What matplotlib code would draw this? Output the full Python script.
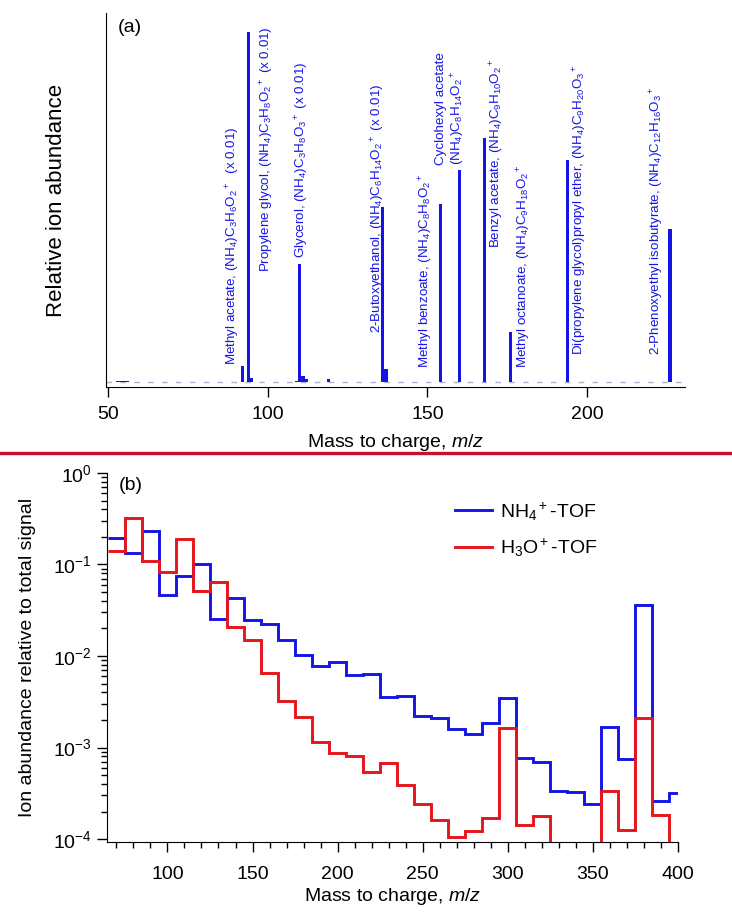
import numpy as np
import matplotlib
matplotlib.use("Agg")
import matplotlib.pyplot as plt
from matplotlib.ticker import MultipleLocator, NullLocator
from matplotlib.lines import Line2D

plt.rcParams['font.family'] = ['Liberation Sans', 'DejaVu Sans']
plt.rcParams['mathtext.fontset'] = 'custom'
plt.rcParams['mathtext.rm'] = 'Liberation Sans'
plt.rcParams['mathtext.it'] = 'Liberation Sans:italic'
plt.rcParams['mathtext.bf'] = 'Liberation Sans:bold'

# ---- panel (a): NH4+ mass spectrum (relative abundance) ----
mz_peaks = [53, 54, 55, 56, 92, 94, 95, 109, 110, 111, 112, 119, 136, 137,
            154, 160, 168, 176, 194, 226]
abund_peaks = [0.3, 0.4, 0.4, 0.3, 4.7, 100.0, 1.0, 0.3, 33.7, 1.7, 0.9, 0.9, 50.0, 3.6,
               50.8, 60.5, 69.7, 14.2, 63.5, 43.7]

peak_labels = [
    "Methyl acetate, (NH$_4$)C$_3$H$_6$O$_2$$^+$  (x 0.01)",
    "Propylene glycol, (NH$_4$)C$_3$H$_8$O$_2$$^+$ (x 0.01)",
    "Glycerol, (NH$_4$)C$_3$H$_8$O$_3$$^+$ (x 0.01)",
    "2-Butoxyethanol, (NH$_4$)C$_6$H$_{14}$O$_2$$^+$ (x 0.01)",
    "Methyl benzoate, (NH$_4$)C$_8$H$_8$O$_2$$^+$",
    "Cyclohexyl acetate\n(NH$_4$)C$_8$H$_{14}$O$_2$$^+$",
    "Benzyl acetate, (NH$_4$)C$_9$H$_{10}$O$_2$$^+$",
    "Methyl octanoate, (NH$_4$)C$_9$H$_{18}$O$_2$$^+$",
    "Di(propylene glycol)propyl ether, (NH$_4$)C$_9$H$_{20}$O$_3$$^+$",
    "2-Phenoxyethyl isobutyrate, (NH$_4$)C$_{12}$H$_{16}$O$_3$$^+$",
]
label_x = [89.0, 99.7, 110.7, 134.6, 149.5, 157.4, 171.8, 180.3, 197.8, 221.8]
label_y = [0.059, 0.308, 0.344, 0.144, 0.051, 0.594, 0.372, 0.051, 0.086, 0.086]

# ---- panel (b): binned ion abundance relative to total signal ----
bin_edges = np.arange(65, 406, 10)
nh4_tof = [0.193, 0.135, 0.232, 0.047, 0.074, 0.100, 0.0257, 0.043, 0.0245, 0.0226,
           0.0149, 0.0102, 0.0077, 0.0085, 0.0062, 0.0064, 0.00358, 0.00363, 0.0022,
           0.00213, 0.00158, 0.00141, 0.00184, 0.00347, 0.000766, 0.000693, 0.000335,
           0.000327, 0.00024, 0.00166, 0.000746, 0.0357, 0.000259, 0.000318]
h3o_tof = [0.141, 0.319, 0.109, 0.0826, 0.192, 0.0509, 0.0643, 0.0207, 0.0149, 0.00653,
           0.00319, 0.00216, 0.00116, 0.000883, 0.000819, 0.00054, 0.00068, 0.000389,
           0.000244, 0.00016, 0.000106, 0.000123, 0.000168, 0.00162, 0.000144, 0.000177,
           0.00003, 0.00003, 0.00003, 0.000338, 0.000127, 0.0021, 0.000183, 0.00003]

blue = '#1414e6'
red = '#e8141c'
fs = 14

fig = plt.figure(figsize=(7.32, 9.15), dpi=100)

# ---------------- (a) ----------------
ax1 = fig.add_axes([0.1448, 0.577, 0.791, 0.4087])
ax1.bar(mz_peaks, abund_peaks, width=1.0, color=blue, linewidth=0)
ax1.axhline(0, color='#aab2d6', lw=1, ls=(0, (4, 6)), zorder=0)
ax1.set_xlim(49.3, 230.7)
ax1.set_ylim(-1.45, 105.5)
for lab, x, y in zip(peak_labels, label_x, label_y):
    ax1.text(x, y, lab, transform=ax1.get_xaxis_transform(), rotation=90,
             ha='center', va='bottom', color=blue, fontsize=9.6, multialignment='left')
ax1.spines['top'].set_visible(False)
ax1.spines['right'].set_visible(False)
ax1.yaxis.set_major_locator(NullLocator())
ax1.xaxis.set_major_locator(MultipleLocator(50))
ax1.tick_params(axis='x', direction='out', length=7.5, width=1, pad=6.5, labelsize=fs)
ax1.set_xlabel('Mass to charge, $m/z$', fontsize=fs, labelpad=6)
ax1.set_ylabel('Relative ion abundance', fontsize=16, labelpad=28)
ax1.text(0.02, 0.985, '(a)', transform=ax1.transAxes, fontsize=fs, va='top')

# red separator
fig.add_artist(Line2D([0, 1], [1 - 453 / 915] * 2, transform=fig.transFigure,
                      color='#c8102e', lw=2.4))

# ---------------- (b) ----------------
ax2 = fig.add_axes([0.1462, 0.0798, 0.780, 0.4033])
ax2.stairs(nh4_tof, bin_edges, color=blue, lw=2.1, baseline=None, label='NH$_4$$^+$-TOF')
ax2.stairs(h3o_tof, bin_edges, color=red, lw=2.1, baseline=None, label='H$_3$O$^+$-TOF')
ax2.set_yscale('log')
ax2.set_ylim(0.93e-4, 1)
ax2.set_xlim(64.5, 400)
ax2.xaxis.set_major_locator(MultipleLocator(50))
ax2.xaxis.set_minor_locator(MultipleLocator(10))
ax2.spines['top'].set_visible(False)
ax2.spines['right'].set_visible(False)
ax2.tick_params(which='major', direction='out', length=7.5, width=1, labelsize=fs)
ax2.tick_params(axis='x', which='major', pad=9.5)
ax2.tick_params(which='minor', direction='out', length=4, width=1)
ax2.set_xlabel('Mass to charge, $m/z$', fontsize=fs, labelpad=2.5)
ax2.set_ylabel('Ion abundance relative to total signal', fontsize=fs, labelpad=12)
ax2.text(0.02, 0.99, '(b)', transform=ax2.transAxes, fontsize=fs, va='top')
ax2.legend(loc='upper left', bbox_to_anchor=(0.609, 0.926), frameon=False, fontsize=fs,
           handlelength=1.9, handletextpad=0.45, labelspacing=0.75,
           borderpad=0, borderaxespad=0)

fig.savefig('out.png', dpi=100)
